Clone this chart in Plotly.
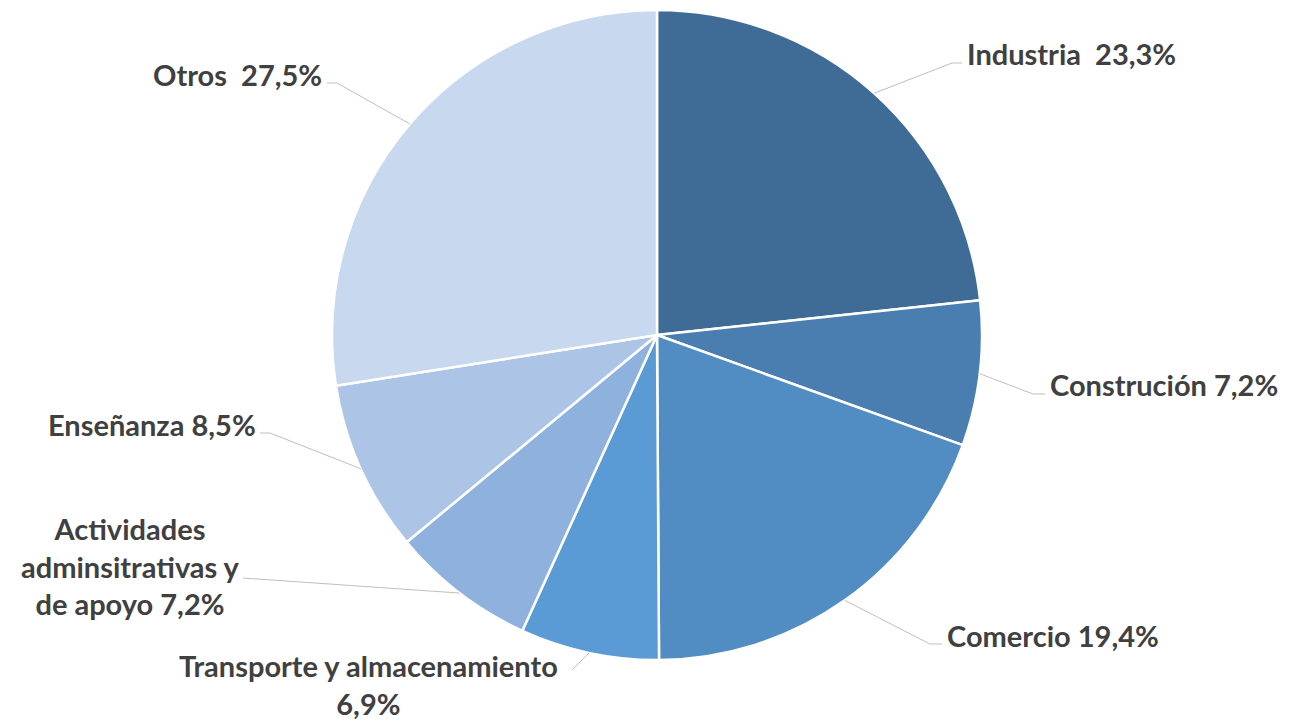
import math
import plotly.graph_objects as go

categories = ["Industria", "Construción", "Comercio", "Transporte y almacenamiento",
              "Actividades adminsitrativas y de apoyo", "Enseñanza", "Otros"]
values = [23.3, 7.2, 19.4, 6.9, 7.2, 8.5, 27.5]
label_texts = ["Industria  23,3%", "Construción 7,2%", "Comercio 19,4%",
               "Transporte y almacenamiento<br>6,9%",
               "Actividades<br>adminsitrativas y<br>de apoyo 7,2%",
               "Enseñanza 8,5%", "Otros  27,5%"]
colors = ["#3F6C96", "#4A7DB0", "#518CC2", "#5B9BD5", "#8EB2DD", "#ACC5E6", "#C8D8EE"]

# page body has an 8px margin: figure is drawn offset by (8, 8)
OFF = 8
W, H = 1289 - OFF, 723 - OFF
CX, CY, R = 657 - OFF, 335 - OFF, 325

# label layout in screen px (reference coordinates)
label_layout = [
    dict(x=965, y=54, xanchor="left", align="left", elbow=[(952, 63), (962, 63)]),
    dict(x=1048, y=385, xanchor="left", align="left", elbow=[(1033, 394), (1045, 394)]),
    dict(x=945, y=635, xanchor="left", align="left", elbow=[(930, 644), (942, 644)]),
    dict(x=368, y=684, xanchor="center", align="center", elbow=[(572, 670)]),
    dict(x=130, y=566, xanchor="center", align="center", elbow=[(243, 578)]),
    dict(x=258, y=425, xanchor="right", align="right", elbow=[(270, 433), (260, 433)]),
    dict(x=324, y=75, xanchor="right", align="right", elbow=[(337, 83), (327, 83)]),
]

fig = go.Figure(go.Pie(
    labels=categories, values=values, sort=False, direction="clockwise",
    rotation=0, textinfo="none", hoverinfo="label+percent",
    marker=dict(colors=colors, line=dict(color="white", width=2.5)),
    domain=dict(x=[(CX - R) / W, (CX + R) / W], y=[(H - CY - R) / H, (H - CY + R) / H]),
    showlegend=False,
))

def px(x):
    return x / W

def py(y):
    return 1 - y / H

total = sum(values)
cum = 0
shapes = []
annotations = []
for v, txt, lay in zip(values, label_texts, label_layout):
    mid = (cum + v / 2) / total * 2 * math.pi
    cum += v
    sx = CX + R * math.sin(mid)
    sy = CY - R * math.cos(mid)
    pts = [(sx, sy)] + [(a - OFF, b - OFF) for a, b in lay["elbow"]]
    path = "M " + " L ".join(f"{px(a):.5f},{py(b):.5f}" for a, b in pts)
    shapes.append(dict(type="path", xref="paper", yref="paper", path=path,
                       line=dict(color="#BFBFBF", width=1)))
    annotations.append(dict(x=px(lay["x"] - OFF), y=py(lay["y"] - OFF), xref="paper", yref="paper",
                            text=txt, showarrow=False, xanchor=lay["xanchor"],
                            yanchor="middle", align=lay["align"],
                            font=dict(family="Lato", size=29, color="#404040", weight="bold")))

fig.update_layout(
    width=W, height=H, margin=dict(l=0, r=0, t=0, b=0),
    paper_bgcolor="white", plot_bgcolor="white",
    shapes=shapes, annotations=annotations,
)
fig.write_html("out.html")
